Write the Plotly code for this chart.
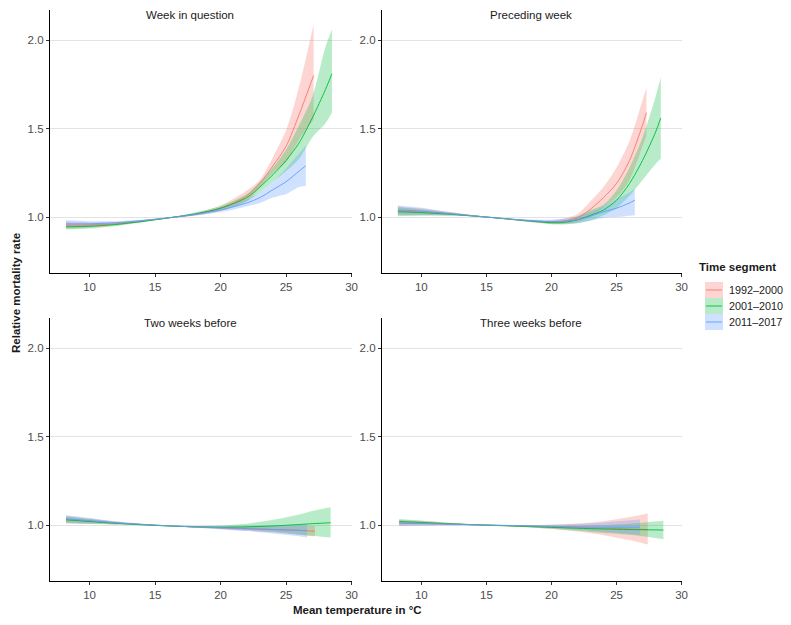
import plotly.graph_objects as go

FONT = "Liberation Sans, Arial, sans-serif"

series_names = ["1992–2000", "2001–2010", "2011–2017"]
line_colors = ["#F8766D", "#00BA38", "#619CFF"]
fill_colors = ["rgba(248,118,109,0.30)", "rgba(0,186,56,0.28)", "rgba(97,156,255,0.30)"]
panel_titles = ["Week in question", "Preceding week", "Two weeks before", "Three weeks before"]
x_ticks = [10, 15, 20, 25, 30]
y_ticks = [1.0, 1.5, 2.0]
y_ticktext = ["1.0", "1.5", "2.0"]

# ---- Panel 1: Week in question ----
p1_red_t = [8.2, 10, 12, 14, 16, 18, 20, 22, 23, 24, 25, 26, 27.1]
p1_red_fit = [0.955, 0.955, 0.962, 0.978, 0.995, 1.015, 1.05, 1.12, 1.19, 1.29, 1.40, 1.58, 1.80]
p1_red_lo = [0.935, 0.94, 0.952, 0.972, 0.993, 1.008, 1.035, 1.09, 1.165, 1.25, 1.31, 1.44, 1.55]
p1_red_hi = [0.975, 0.97, 0.972, 0.984, 0.997, 1.022, 1.065, 1.15, 1.21, 1.34, 1.49, 1.74, 2.09]

p1_grn_t = [8.2, 10, 12, 14, 16, 18, 20, 22, 23, 24, 25, 26, 27, 28, 28.5]
p1_grn_fit = [0.945, 0.948, 0.958, 0.975, 0.995, 1.017, 1.05, 1.11, 1.17, 1.24, 1.32, 1.42, 1.56, 1.72, 1.81]
p1_grn_lo = [0.93, 0.935, 0.95, 0.97, 0.993, 1.01, 1.038, 1.09, 1.14, 1.20, 1.26, 1.33, 1.45, 1.53, 1.59]
p1_grn_hi = [0.96, 0.961, 0.966, 0.98, 0.997, 1.024, 1.062, 1.13, 1.20, 1.28, 1.38, 1.52, 1.68, 1.96, 2.06]

p1_blu_t = [8.2, 10, 12, 14, 16, 18, 20, 22, 23, 24, 25, 26, 26.5]
p1_blu_fit = [0.962, 0.962, 0.968, 0.98, 0.996, 1.014, 1.04, 1.08, 1.11, 1.155, 1.20, 1.26, 1.29]
p1_blu_lo = [0.942, 0.947, 0.959, 0.975, 0.994, 1.007, 1.028, 1.06, 1.08, 1.11, 1.13, 1.17, 1.175]
p1_blu_hi = [0.982, 0.977, 0.977, 0.985, 0.998, 1.021, 1.052, 1.10, 1.14, 1.20, 1.275, 1.36, 1.405]

# ---- Panel 2: Preceding week ----
p2_red_t = [8.2, 10, 12, 14, 16, 18, 20, 21, 22, 23, 24, 25, 26, 27, 27.3]
p2_red_fit = [1.035, 1.03, 1.02, 1.007, 0.993, 0.98, 0.972, 0.978, 0.995, 1.045, 1.11, 1.19, 1.32, 1.52, 1.59]
p2_red_lo = [1.01, 1.012, 1.01, 1.003, 0.991, 0.975, 0.962, 0.962, 0.972, 1.0, 1.056, 1.11, 1.21, 1.40, 1.46]
p2_red_hi = [1.06, 1.048, 1.03, 1.011, 0.995, 0.985, 0.982, 0.994, 1.018, 1.09, 1.17, 1.28, 1.43, 1.66, 1.73]

p2_grn_t = [8.2, 10, 12, 14, 16, 18, 20, 21, 22, 23, 24, 25, 26, 27, 28, 28.4]
p2_grn_fit = [1.03, 1.025, 1.017, 1.006, 0.994, 0.98, 0.968, 0.97, 0.985, 1.01, 1.04, 1.095, 1.19, 1.32, 1.48, 1.56]
p2_grn_lo = [1.005, 1.007, 1.007, 1.002, 0.992, 0.975, 0.96, 0.958, 0.965, 0.98, 1.01, 1.05, 1.12, 1.21, 1.30, 1.33]
p2_grn_hi = [1.055, 1.043, 1.027, 1.01, 0.996, 0.985, 0.976, 0.982, 1.005, 1.04, 1.07, 1.15, 1.28, 1.45, 1.68, 1.79]

p2_blu_t = [8.2, 10, 12, 14, 16, 18, 20, 22, 24, 25, 26, 26.4]
p2_blu_fit = [1.04, 1.033, 1.02, 1.007, 0.994, 0.982, 0.975, 0.985, 1.03, 1.05, 1.08, 1.095]
p2_blu_lo = [1.015, 1.013, 1.01, 1.003, 0.992, 0.977, 0.965, 0.967, 0.995, 1.0, 1.008, 1.01]
p2_blu_hi = [1.065, 1.053, 1.03, 1.011, 0.996, 0.987, 0.985, 1.003, 1.06, 1.10, 1.14, 1.16]

# ---- Panel 3: Two weeks before ----
p3_red_t = [8.2, 10, 12, 14, 16, 18, 20, 22, 24, 26, 27.2]
p3_red_fit = [1.03, 1.022, 1.012, 1.003, 0.996, 0.99, 0.985, 0.98, 0.975, 0.97, 0.965]
p3_red_lo = [1.01, 1.007, 1.004, 0.999, 0.994, 0.986, 0.977, 0.968, 0.958, 0.945, 0.935]
p3_red_hi = [1.05, 1.037, 1.02, 1.007, 0.998, 0.994, 0.993, 0.992, 0.992, 0.995, 0.995]

p3_grn_t = [8.2, 10, 12, 14, 16, 18, 20, 22, 24, 26, 27, 28.4]
p3_grn_fit = [1.03, 1.02, 1.01, 1.002, 0.995, 0.99, 0.988, 0.99, 0.995, 1.003, 1.008, 1.013]
p3_grn_lo = [1.01, 1.006, 1.002, 0.998, 0.993, 0.985, 0.978, 0.972, 0.962, 0.947, 0.94, 0.93]
p3_grn_hi = [1.05, 1.034, 1.018, 1.006, 0.997, 0.995, 0.998, 1.008, 1.03, 1.06, 1.08, 1.10]

p3_blu_t = [8.2, 10, 12, 14, 16, 18, 20, 22, 24, 26, 26.6]
p3_blu_fit = [1.035, 1.025, 1.013, 1.004, 0.996, 0.99, 0.985, 0.98, 0.975, 0.97, 0.968]
p3_blu_lo = [1.015, 1.01, 1.005, 1.0, 0.994, 0.986, 0.977, 0.966, 0.953, 0.937, 0.93]
p3_blu_hi = [1.055, 1.04, 1.021, 1.008, 0.998, 0.994, 0.993, 0.994, 0.997, 1.003, 1.006]

# ---- Panel 4: Three weeks before ----
p4_red_t = [8.3, 10, 12, 14, 16, 18, 20, 22, 24, 26, 27.4]
p4_red_fit = [1.012, 1.01, 1.006, 1.002, 0.998, 0.994, 0.99, 0.986, 0.982, 0.978, 0.975]
p4_red_lo = [0.995, 0.997, 0.999, 0.999, 0.996, 0.989, 0.978, 0.963, 0.943, 0.915, 0.89]
p4_red_hi = [1.029, 1.023, 1.013, 1.005, 1.0, 0.999, 1.002, 1.01, 1.022, 1.045, 1.065]

p4_grn_t = [8.3, 10, 12, 14, 16, 18, 20, 22, 24, 26, 28.6]
p4_grn_fit = [1.02, 1.015, 1.008, 1.002, 0.997, 0.992, 0.987, 0.982, 0.978, 0.975, 0.972]
p4_grn_lo = [1.005, 1.004, 1.002, 0.999, 0.995, 0.988, 0.979, 0.968, 0.955, 0.945, 0.92]
p4_grn_hi = [1.035, 1.026, 1.014, 1.005, 0.999, 0.996, 0.995, 0.996, 1.0, 1.008, 1.025]

p4_blu_t = [8.3, 10, 12, 14, 16, 18, 20, 22, 24, 26, 26.8]
p4_blu_fit = [1.01, 1.008, 1.005, 1.002, 0.999, 0.996, 0.993, 0.99, 0.988, 0.988, 0.988]
p4_blu_lo = [0.995, 0.997, 0.999, 0.999, 0.997, 0.992, 0.984, 0.975, 0.962, 0.95, 0.945]
p4_blu_hi = [1.025, 1.019, 1.011, 1.005, 1.001, 1.0, 1.002, 1.006, 1.015, 1.027, 1.032]

panels = [
    [(p1_red_t, p1_red_fit, p1_red_lo, p1_red_hi), (p1_grn_t, p1_grn_fit, p1_grn_lo, p1_grn_hi), (p1_blu_t, p1_blu_fit, p1_blu_lo, p1_blu_hi)],
    [(p2_red_t, p2_red_fit, p2_red_lo, p2_red_hi), (p2_grn_t, p2_grn_fit, p2_grn_lo, p2_grn_hi), (p2_blu_t, p2_blu_fit, p2_blu_lo, p2_blu_hi)],
    [(p3_red_t, p3_red_fit, p3_red_lo, p3_red_hi), (p3_grn_t, p3_grn_fit, p3_grn_lo, p3_grn_hi), (p3_blu_t, p3_blu_fit, p3_blu_lo, p3_blu_hi)],
    [(p4_red_t, p4_red_fit, p4_red_lo, p4_red_hi), (p4_grn_t, p4_grn_fit, p4_grn_lo, p4_grn_hi), (p4_blu_t, p4_blu_fit, p4_blu_lo, p4_blu_hi)],
]

# The page body has an 8px margin on every side; size the figure so the page does not overflow.
OFF = 8
W, H = 791 - 2 * OFF, 625 - 2 * OFF
ML, MT = 50 - OFF, 10 - OFF          # figure px of plot-area left/top
PLOT_RIGHT, PLOT_BOTTOM = 682 - OFF, 581 - OFF
MR, MB = W - PLOT_RIGHT, H - PLOT_BOTTOM
PW, PH = W - ML - MR, H - MT - MB


def px_to_paper_x(px):
    return (px - OFF - ML) / PW


def px_to_paper_y(py):
    return (PLOT_BOTTOM - (py - OFF)) / PH


fig = go.Figure()
axis_ids = [("x", "y"), ("x2", "y2"), ("x3", "y3"), ("x4", "y4")]

for pi, panel in enumerate(panels):
    xa, ya = axis_ids[pi]
    for si, (t, fit, lo, hi) in enumerate(panel):
        fig.add_trace(go.Scatter(x=t, y=lo, mode="lines", line=dict(width=0, shape="spline", smoothing=0.8),
                                 xaxis=xa, yaxis=ya, showlegend=False, hoverinfo="skip"))
        fig.add_trace(go.Scatter(x=t, y=hi, mode="lines", line=dict(width=0, shape="spline", smoothing=0.8),
                                 fill="tonexty", fillcolor=fill_colors[si],
                                 xaxis=xa, yaxis=ya, showlegend=False, hoverinfo="skip"))
    for si, (t, fit, lo, hi) in enumerate(panel):
        fig.add_trace(go.Scatter(x=t, y=fit, mode="lines", name=series_names[si],
                                 line=dict(color=line_colors[si], width=0.9, shape="spline", smoothing=0.8),
                                 xaxis=xa, yaxis=ya, showlegend=False))

x_range = [6.98, 30.03]
y_range = [0.684, 2.17]
xd = [[0, px_to_paper_x(352)], [px_to_paper_x(382), 1.0]] * 2
yd = [[px_to_paper_y(273), 1.0], [px_to_paper_y(273), 1.0],
      [0, px_to_paper_y(318)], [0, px_to_paper_y(318)]]

tickfont = dict(family=FONT, size=11.5, color="#4d4d4d")
common_x = dict(range=x_range, tickvals=x_ticks, showgrid=False, zeroline=False,
                showline=True, linecolor="black", linewidth=1.2, automargin=False,
                ticks="outside", ticklen=3, tickcolor="#333333", tickfont=tickfont)
common_y = dict(range=y_range, tickvals=y_ticks, ticktext=y_ticktext,
                showgrid=True, gridcolor="#e3e3e3", gridwidth=1, zeroline=False,
                showline=True, linecolor="black", linewidth=1.2, automargin=False,
                ticks="outside", ticklen=3, tickcolor="#333333", tickfont=tickfont)

layout = dict(
    width=W, height=H,
    margin=dict(l=ML, r=MR, t=MT, b=MB, autoexpand=False),
    plot_bgcolor="white", paper_bgcolor="white",
    font=dict(family=FONT, size=11.5, color="#1a1a1a"),
    showlegend=False,
)
for i in range(4):
    sx = "xaxis" if i == 0 else f"xaxis{i+1}"
    sy = "yaxis" if i == 0 else f"yaxis{i+1}"
    layout[sx] = dict(common_x, domain=xd[i], anchor=axis_ids[i][1])
    layout[sy] = dict(common_y, domain=yd[i], anchor=axis_ids[i][0])
fig.update_layout(**layout)

annotations = []
title_cx = [190, 531, 190, 531]
title_cy = [15, 15, 323, 323]
for i, title in enumerate(panel_titles):
    annotations.append(dict(text=title, x=px_to_paper_x(title_cx[i]), y=px_to_paper_y(title_cy[i]),
                            xref="paper", yref="paper", xanchor="center", yanchor="middle", showarrow=False,
                            font=dict(family=FONT, size=11.5, color="#1a1a1a")))
annotations.append(dict(text="<b>Mean temperature in °C</b>", x=px_to_paper_x(357), y=px_to_paper_y(610),
                        xref="paper", yref="paper", xanchor="center", yanchor="middle", showarrow=False,
                        font=dict(family=FONT, size=11.5, color="#1a1a1a")))
annotations.append(dict(text="<b>Relative mortality rate</b>", x=px_to_paper_x(16), y=px_to_paper_y(293),
                        xref="paper", yref="paper", xanchor="center", yanchor="middle", textangle=-90,
                        showarrow=False, font=dict(family=FONT, size=11.5, color="#1a1a1a")))

# manual legend
shapes = []
annotations.append(dict(text="<b>Time segment</b>", x=px_to_paper_x(697), y=px_to_paper_y(267),
                        xref="paper", yref="paper", xanchor="left", yanchor="middle", showarrow=False,
                        font=dict(family=FONT, size=11.5, color="#1a1a1a")))
key_h = 16
for si, name in enumerate(series_names):
    cy = 290 + key_h * si
    shapes.append(dict(type="rect", xref="paper", yref="paper",
                       x0=px_to_paper_x(705), x1=px_to_paper_x(723),
                       y0=px_to_paper_y(cy - key_h / 2), y1=px_to_paper_y(cy + key_h / 2),
                       fillcolor=fill_colors[si], line=dict(width=0)))
    shapes.append(dict(type="line", xref="paper", yref="paper",
                       x0=px_to_paper_x(706), x1=px_to_paper_x(722),
                       y0=px_to_paper_y(cy), y1=px_to_paper_y(cy),
                       line=dict(color=line_colors[si], width=0.9)))
    annotations.append(dict(text=name, x=px_to_paper_x(727), y=px_to_paper_y(cy),
                            xref="paper", yref="paper", xanchor="left", yanchor="middle", showarrow=False,
                            font=dict(family=FONT, size=10.8, color="#1a1a1a")))

fig.update_layout(annotations=annotations, shapes=shapes)

fig.write_html("out.html")
